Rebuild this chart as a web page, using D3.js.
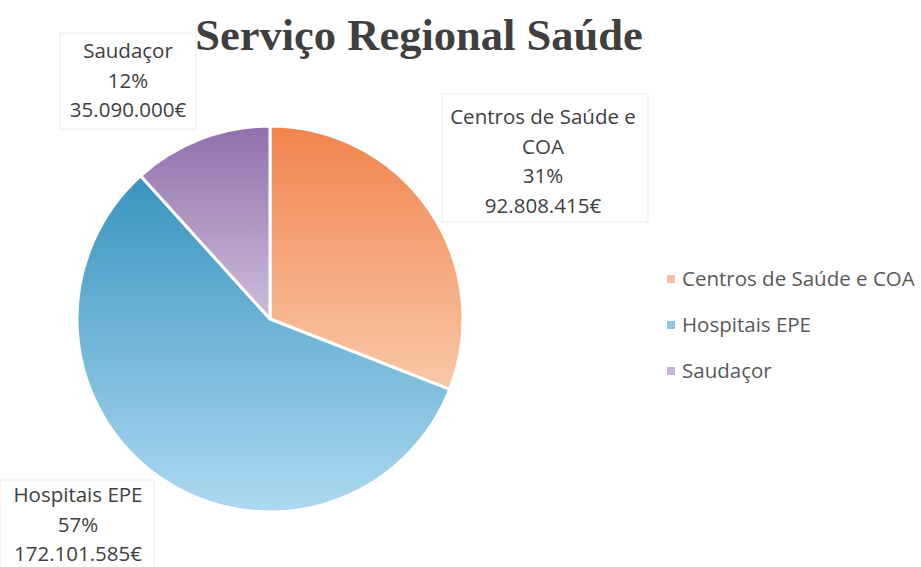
<!DOCTYPE html>
<html>
<head>
<meta charset="utf-8">
<script src="https://cdn.jsdelivr.net/npm/d3@7"></script>
<style>
  body { margin: 0; background: #fff; }
  svg { display: block; }
</style>
</head>
<body>
<div id="chart"></div>
<script>
// data
var categories = ['Centros de Saúde e COA', 'Hospitais EPE', 'Saudaçor'];
var values = [92808415, 172101585, 35090000];
var percents = ['31%', '57%', '12%'];
var amounts = ['92.808.415€', '172.101.585€', '35.090.000€'];
var labelLines = [
  ['Centros de Saúde e', 'COA'],
  ['Hospitais EPE'],
  ['Saudaçor']
];

var width = 921, height = 567;
var cx = 270, cy = 319, radius = 193;

// gradient stops per slice: top (dark) -> bottom (light)
var gradTop = ['#f1844d', '#3794be', '#9070ab'];
var gradBottom = ['#f9c8a8', '#aed9f2', '#cdbcdb'];
var legendColors = ['#f8c0a0', '#8ec8e6', '#c7b4da'];

// label boxes: text centre x, first baseline, box rect
var labelPos = [
  {x: 543, y: 124, bx: 442, by: 94, w: 206, h: 128},
  {x: 78, y: 502, bx: 0, by: 480, w: 154, h: 95},
  {x: 128, y: 58, bx: 60, by: 33, w: 136, h: 96}
];
var lineStep = 29.5;

var svg = d3.select('#chart').append('svg')
  .attr('width', width)
  .attr('height', height);

var defs = svg.append('defs');
categories.forEach(function(c, i) {
  var g = defs.append('linearGradient')
    .attr('id', 'grad' + i)
    .attr('x1', 0).attr('y1', 0).attr('x2', 0).attr('y2', 1);
  g.append('stop').attr('offset', '0%').attr('stop-color', gradTop[i]);
  g.append('stop').attr('offset', '100%').attr('stop-color', gradBottom[i]);
});

// title
svg.append('text')
  .attr('x', 419)
  .attr('y', 50)
  .attr('text-anchor', 'middle')
  .attr('font-family', 'Liberation Serif, serif')
  .attr('font-weight', 'bold')
  .attr('font-size', 44.5)
  .attr('fill', '#3f3f3f')
  .text('Serviço Regional Saúde');

var pie = d3.pie().sort(null).value(function(d) { return d; });
var arc = d3.arc().innerRadius(0).outerRadius(radius);

svg.append('g')
  .attr('transform', 'translate(' + cx + ',' + cy + ')')
  .selectAll('path')
  .data(pie(values))
  .enter()
  .append('path')
  .attr('d', arc)
  .attr('fill', function(d, i) { return 'url(#grad' + i + ')'; })
  .attr('stroke', '#fff')
  .attr('stroke-width', 3)
  .attr('stroke-linejoin', 'round');

// data labels
var labels = svg.selectAll('.data-label')
  .data(categories)
  .enter()
  .append('g')
  .attr('class', 'data-label');

labels.append('rect')
  .attr('x', function(d, i) { return labelPos[i].bx; })
  .attr('y', function(d, i) { return labelPos[i].by; })
  .attr('width', function(d, i) { return labelPos[i].w; })
  .attr('height', function(d, i) { return labelPos[i].h; })
  .attr('fill', '#fff')
  .attr('stroke', '#ededed')
  .attr('stroke-width', 1);

labels.each(function(d, i) {
  var lines = labelLines[i].concat([percents[i], amounts[i]]);
  var t = d3.select(this).append('text')
    .attr('text-anchor', 'middle')
    .attr('font-family', 'Open Sans, sans-serif')
    .attr('font-size', 20.5)
    .attr('fill', '#404040');
  lines.forEach(function(line, j) {
    t.append('tspan')
      .attr('x', labelPos[i].x)
      .attr('y', labelPos[i].y + j * lineStep)
      .text(line);
  });
});

// legend
var legend = svg.selectAll('.legend')
  .data(categories)
  .enter()
  .append('g')
  .attr('class', 'legend')
  .attr('transform', function(d, i) { return 'translate(667,' + (279 + i * 46) + ')'; });

legend.append('rect')
  .attr('x', 0).attr('y', -4)
  .attr('width', 8).attr('height', 8)
  .attr('fill', function(d, i) { return legendColors[i]; });

legend.append('text')
  .attr('x', 15)
  .attr('y', 7)
  .attr('font-family', 'Open Sans, sans-serif')
  .attr('font-size', 20.5)
  .attr('fill', '#595959')
  .text(function(d) { return d; });
</script>
</body>
</html>
